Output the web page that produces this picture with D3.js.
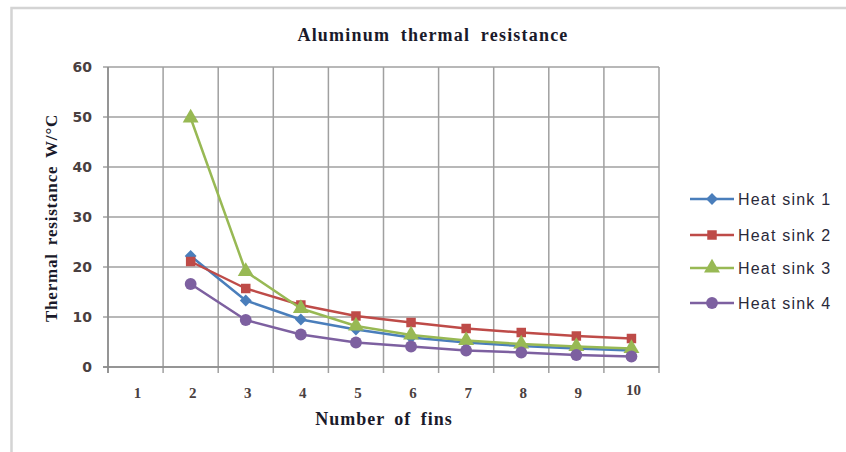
<!DOCTYPE html>
<html><head><meta charset="utf-8">
<script src="https://cdn.jsdelivr.net/npm/d3@7"></script>
<style>body{margin:0;background:#fff;}svg{display:block;}</style>
</head><body>
<script>
const categories = [1,2,3,4,5,6,7,8,9,10];
const seriesNames = ["Heat sink 1","Heat sink 2","Heat sink 3","Heat sink 4"];
const heatSink1 = [null,22.2,13.3,9.5,7.5,5.9,4.9,4.2,3.7,3.3];
const heatSink2 = [null,21.1,15.7,12.4,10.2,8.9,7.7,6.9,6.2,5.7];
const heatSink3 = [null,49.8,19.1,11.7,8.2,6.4,5.3,4.6,4.1,3.7];
const heatSink4 = [null,16.6,9.4,6.5,4.9,4.1,3.3,2.9,2.4,2.1];
const yTicks = [0,10,20,30,40,50,60];
const colors = ["#4a7ebb","#be4b48","#98b954","#7d60a0"];
const symbols = [d3.symbolSquare, d3.symbolSquare, d3.symbolTriangle, d3.symbolCircle];
const rotations = [45, 0, 0, 0];
const seriesValues = [heatSink1, heatSink2, heatSink3, heatSink4];

const W = 846, H = 452;
const svg = d3.select("body").append("svg").attr("width", W).attr("height", H);
svg.append("rect").attr("x",11.5).attr("y",8).attr("width",W).attr("height",H)
  .attr("fill","#fff").attr("stroke","#d4d4d4").attr("stroke-width",2.5);

const x = d3.scaleBand().domain(categories).range([108, 659]);
const y = d3.scaleLinear().domain([0, 60]).range([367, 67]);

const g = svg.append("g");
g.selectAll("line.hg").data(yTicks).join("line")
  .attr("x1",103).attr("x2",659).attr("y1",d=>y(d)).attr("y2",d=>y(d))
  .attr("stroke","#a0a0a0").attr("stroke-width",1.5);
const vx = categories.map(c=>x(c)).concat([x(10)+x.bandwidth()]);
g.selectAll("line.vg").data(vx).join("line")
  .attr("x1",d=>d).attr("x2",d=>d).attr("y1",y(60)).attr("y2",373)
  .attr("stroke","#a0a0a0").attr("stroke-width",1.5);
g.append("line").attr("x1",108).attr("x2",108).attr("y1",y(60)).attr("y2",373).attr("stroke","#8a8a8a").attr("stroke-width",1.5);
g.append("line").attr("x1",103).attr("x2",659).attr("y1",y(0)).attr("y2",y(0)).attr("stroke","#8a8a8a").attr("stroke-width",1.5);

g.selectAll("text.yt").data(yTicks).join("text")
  .attr("x",92).attr("y",d=>y(d)+5).attr("text-anchor","end")
  .attr("font-family","'DejaVu Sans', Verdana, sans-serif").attr("font-weight","bold")
  .attr("font-size",14).attr("fill","#4a4040").text(d=>d);
g.selectAll("text.xt").data(categories).join("text")
  .attr("x",d=>x(d)+x.bandwidth()/2+2).attr("y",d=>d===10?395:398).attr("text-anchor","middle")
  .attr("font-family","'Liberation Serif', serif").attr("font-weight","bold")
  .attr("font-size",15).attr("fill","#4a4040").text(d=>d);

svg.append("text").attr("x",433).attr("y",41).attr("text-anchor","middle")
  .attr("font-family","'Liberation Serif', serif").attr("font-weight","bold")
  .attr("font-size",18).attr("letter-spacing","1.2px").attr("word-spacing","5px")
  .attr("fill","#1a1a2a").text("Aluminum thermal resistance");
svg.append("text").attr("x",384).attr("y",425).attr("text-anchor","middle")
  .attr("font-family","'Liberation Serif', serif").attr("font-weight","bold")
  .attr("font-size",18).attr("letter-spacing","1px").attr("word-spacing","4px")
  .attr("fill","#1a1a2a").text("Number of fins");
svg.append("text").attr("transform","translate(57,218) rotate(-90)").attr("text-anchor","middle")
  .attr("font-family","'Liberation Serif', serif").attr("font-weight","bold")
  .attr("font-size",17).attr("letter-spacing","0.8px").attr("word-spacing","3px")
  .attr("fill","#1a1a2a").text("Thermal resistance W/°C");

const cx = c => x(c) + x.bandwidth()/2;
const line = d3.line().defined(d=>d.v!==null).x(d=>cx(d.c)).y(d=>y(d.v));
const markerSize = [70, 90, 110, 110];
seriesValues.forEach((vals, i) => {
  const pts = categories.map((c,j)=>({c, v: vals[j]}));
  svg.append("path").datum(pts).attr("d", line).attr("fill","none")
    .attr("stroke", colors[i]).attr("stroke-width", 2.5).attr("stroke-linejoin","round");
  svg.append("g").selectAll("path").data(pts.filter(d=>d.v!==null)).join("path")
    .attr("transform", d=>`translate(${cx(d.c)},${y(d.v)}) rotate(${rotations[i]})`)
    .attr("d", d3.symbol().type(symbols[i]).size(markerSize[i]))
    .attr("fill", colors[i]);
});

const legY = [199, 235, 268, 303];
const leg = svg.append("g");
seriesNames.forEach((name, i) => {
  const gy = legY[i];
  leg.append("line").attr("x1",690).attr("x2",734).attr("y1",gy).attr("y2",gy)
    .attr("stroke",colors[i]).attr("stroke-width",2.5);
  leg.append("path").attr("transform",`translate(712,${gy}) rotate(${rotations[i]})`)
    .attr("d", d3.symbol().type(symbols[i]).size(markerSize[i])).attr("fill",colors[i]);
  leg.append("text").attr("x",738).attr("y",gy+6)
    .attr("font-family","'Liberation Sans', Arial, sans-serif").attr("font-size",16)
    .attr("letter-spacing","1.2px").attr("fill","#2a2a3a").text(name);
});
</script>
</body></html>
